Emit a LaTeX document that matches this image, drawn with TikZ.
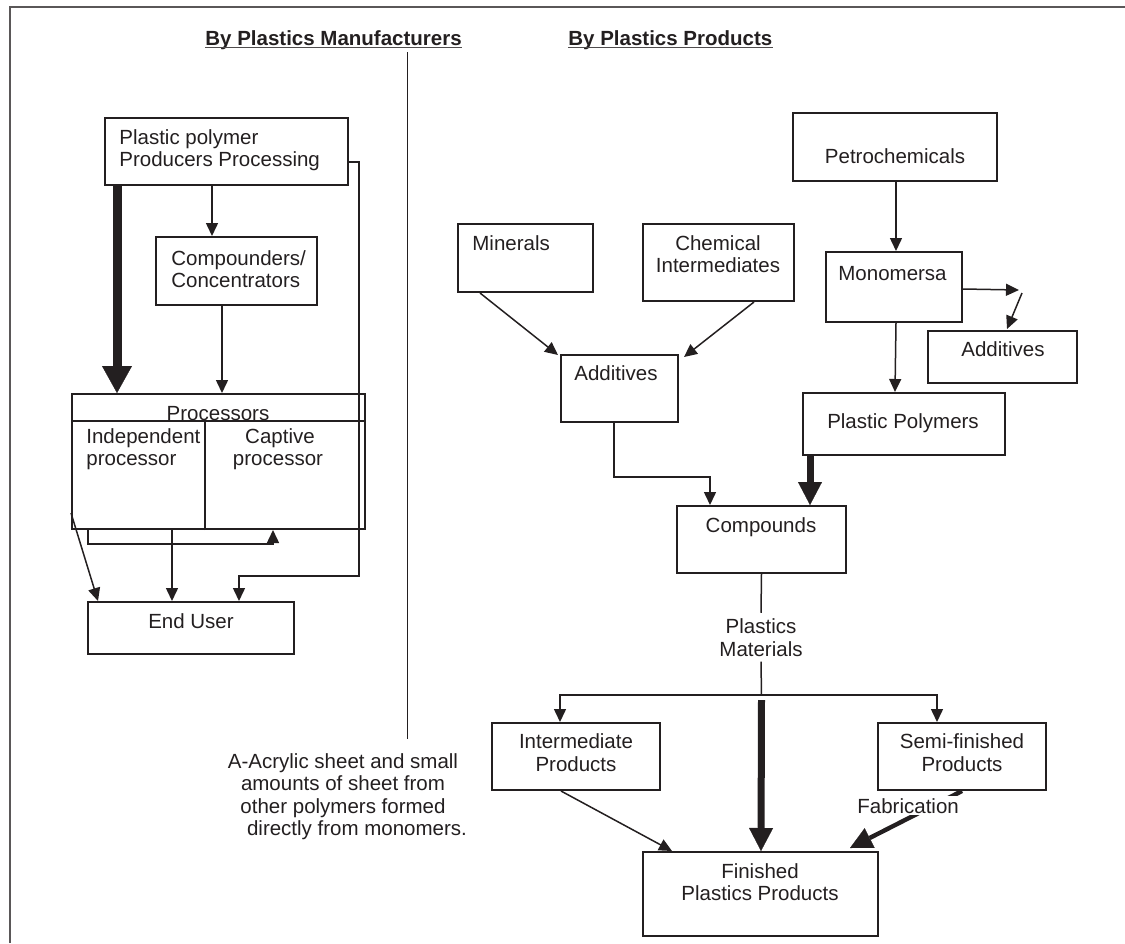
\documentclass[tikz,border=0pt]{standalone}
\usepackage{fontspec}
\setmainfont{Liberation Sans}
\usetikzlibrary{arrows.meta,calc,fit}
\definecolor{ink}{RGB}{35,31,32}
\newcommand\mkbox[5]{\node[boxst, fit={(#2,#3)(#4,#5)}] (#1) {};}
\begin{document}
\begin{tikzpicture}[x=0.5pt,y=-0.5pt,
  every node/.style={font=\fontsize{10.25}{11.25}\selectfont, text=ink, inner sep=0pt},
  boxst/.style={draw=ink, line width=1pt, inner sep=0pt},
  txt/.style={anchor=base},
  txtl/.style={anchor=base west},
  head/.style={anchor=base west, font=\fontsize{10.25}{11.25}\selectfont\bfseries},
  thinln/.style={draw=ink, line width=0.75pt},
  arr/.style={thinln, -{Triangle[length=6.5pt,width=6pt]}},
  bigL/.style={draw=ink, line width=4.5pt, -{Triangle[length=13.5pt,width=15pt,line width=0.1pt]}},
  bigR/.style={draw=ink, line width=3.5pt, -{Triangle[length=11.5pt,width=12pt,line width=0.1pt]}},
  fab/.style={draw=ink, line width=2.2pt, -{Triangle[length=11pt,width=11pt,line width=0.1pt]}},
  frame/.style={draw=ink!75, line width=1.1pt}
]
\useasboundingbox (0,0) rectangle (1125,943);
% frame
\draw[frame] (10,943) -- (10,7) -- (1125,7);
% headers
\node[head] (hA) at (205,45) {By Plastics Manufacturers};
\node[head] (hB) at (568,45) {By Plastics Products};
\draw[draw=ink!80, line width=0.8pt] ($(hA.base west)+(0,2.5)$) -- ($(hA.base east)+(0,2.5)$);
\draw[draw=ink!80, line width=0.8pt] ($(hB.base west)+(0,2.5)$) -- ($(hB.base east)+(0,2.5)$);
% divider
\draw[thinln] (407.5,52) -- (407.5,739);

% ---------- left column ----------
\mkbox{pp}{105}{118}{348}{185}
\node[txtl] (tppa) at (119,144) {Plastic polymer};
\node[txtl] (tppb) at (119,166) {Producers Processing};
\mkbox{cc}{156}{237}{317}{305}
\node[txtl] (tcca) at (171,265) {Compounders/};
\node[txtl] (tccb) at (171,287) {Concentrators};
\mkbox{proc}{72}{394}{365}{529}
\draw[boxst] ($(proc.north west)+(0,28)$) -- ($(proc.north east)+(0,28)$);
\draw[boxst] ($(proc.south west)+(134,0)$) -- ($(proc.north west)+(134,28)$);
\node[txt] (tpra) at (218,420) {Processors};
\node[txtl] (tprb) at (86,443) {Independent};
\node[txtl] (tprc) at (86,465) {processor};
\node[txt] (tprd) at (280,443) {Captive};
\node[txt] (tpre) at (278,465) {processor};
\mkbox{eu}{88}{602}{294}{654}
\node[txt] (teu) at (191,628) {End User};

\draw[bigL] ($(pp.south west)+(13,0)$) -- ($(proc.north west)+(46,0)$);
\draw[arr] ($(pp.south west)+(108,0)$) -- ($(cc.north west)+(57,0)$);
\draw[arr] ($(cc.south west)+(67,0)$) -- ($(proc.north west)+(151,0)$);
\draw[arr] ($(pp.north east)+(0,45)$) -- ++(10,0) |- ($(eu.north west)+(152,-25)$) -- ($(eu.north west)+(152,0)$);
\draw[arr] ($(proc.south west)+(17,0)$) -- ++(0,14) -| ($(proc.south west)+(202,0)$);
\draw[arr] ($(proc.south west)+(101,0)$) -- ($(eu.north west)+(85,0)$);
\draw[arr] ($(proc.south west)+(0,-17)$) -- ($(eu.north west)+(11,0)$);

\node[txt] (acA) at (343,768) {A-Acrylic sheet and small};
\node[txt] (acB) at (343,790.5) {amounts of sheet from};
\node[txt] (acC) at (343,813) {other polymers formed};
\node[txt] (acD) at (357,835) {directly from monomers.};

% ---------- right column ----------
\mkbox{petro}{793}{113}{997}{181}
\node[txt] (tpet) at (895,163) {Petrochemicals};
\mkbox{mono}{826}{252}{962}{322}
\node[txtl] (tmon) at (838,280) {Monomersa};
\mkbox{addr}{928}{331}{1077}{383}
\node[txt] (taddr) at (1003,356) {Additives};
\mkbox{poly}{803}{393}{1005}{455}
\node[txt] (tpoly) at (903,428) {Plastic Polymers};
\mkbox{min}{458}{224}{593}{292}
\node[txtl] (tmin) at (472,250) {Minerals};
\mkbox{chem}{643}{224}{794}{301}
\node[txt] (tchA) at (718,250) {Chemical};
\node[txt] (tchB) at (718,272) {Intermediates};
\mkbox{addl}{561}{355}{678}{422}
\node[txt] (taddl) at (616,380) {Additives};
\mkbox{comp}{677}{506}{846}{573}
\node[txt] (tcomp) at (761,532) {Compounds};
\node[txt] (labA) at (761,633) {Plastics};
\node[txt] (labB) at (761,656) {Materials};
\mkbox{inter}{492}{723}{660}{790}
\node[txt] (tinA) at (576,748) {Intermediate};
\node[txt] (tinB) at (576,771) {Products};
\mkbox{semi}{878}{723}{1046}{790}
\node[txt] (tseA) at (962,748) {Semi-finished};
\node[txt] (tseB) at (962,771) {Products};
\mkbox{fin}{643}{852}{878}{936}
\node[txt] (tfiA) at (760,878) {Finished};
\node[txt] (tfiB) at (760,900) {Plastics Products};

\draw[arr] ($(petro.south west)+(104,0)$) -- ($(mono.north west)+(71,0)$);
\coordinate (ka) at (1019,290);
\coordinate (kb) at (1022,293);
\draw[arr] ($(mono.north east)+(0,38)$) -- (ka);
\draw[arr] (kb) -- ($(addr.north west)+(80,-1)$);
\draw[arr] ($(mono.south west)+(71,0)$) -- ($(poly.north west)+(93,0)$);
\draw[arr] ($(min.south west)+(23,0)$) -- ($(addl.north west)+(-2,1)$);
\draw[arr] ($(chem.south west)+(112,0)$) -- ($(addl.north east)+(5,3)$);
\draw[arr] ($(addl.south west)+(54,0)$) |- ($(comp.north west)+(34,-28)$) -- ($(comp.north west)+(34,0)$);
\draw[bigR] ($(poly.south west)+(8,0)$) -- ($(comp.north west)+(134,0)$);
\draw[thinln] (comp.south) -- ($(labA.north)+(0,-5)$);
\coordinate (split) at ($(comp.south)+(0,121)$);
\draw[thinln] ($(labB.south)+(0,5)$) -- (split);
\draw[arr] (split) -| ($(inter.north west)+(69,0)$);
\draw[arr] (split) -| ($(semi.north west)+(60,0)$);
\draw[bigR] ($(split)+(0,5)$) -- ($(fin.north west)+(119,0)$);
\draw[arr] ($(inter.south west)+(70,0)$) -- ($(fin.north west)+(30,0)$);
\draw[fab] (semi.south) -- ($(fin.north east)+(-29,-3)$);
\node[txtl, fill=white, inner xsep=0pt, inner ysep=1pt] (tfab) at (857,813) {Fabrication};
\end{tikzpicture}
\end{document}
